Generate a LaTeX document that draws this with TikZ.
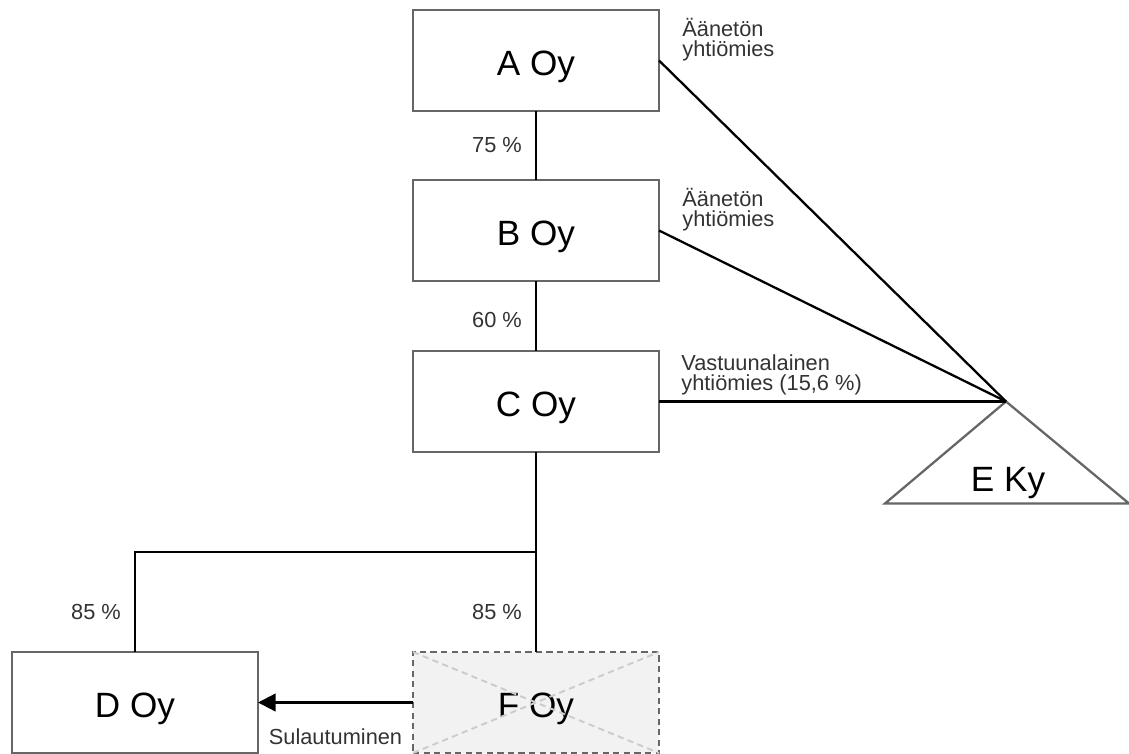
\documentclass[tikz,border=0pt]{standalone}
\usepackage{fontspec}
\setmainfont{Liberation Sans}
\usepackage{xcolor}
\definecolor{orgBorder}{HTML}{666666}
\definecolor{orgText}{HTML}{333333}
\definecolor{orgGone}{HTML}{F2F2F2}
\definecolor{orgCross}{HTML}{CCCCCC}
\usetikzlibrary{calc,arrows.meta,positioning}

\begin{document}
\begin{tikzpicture}[
    co/.style={draw=orgBorder, line width=1.3pt, fill=white, minimum width=4.92cm, minimum height=2.02cm, inner sep=0pt, outer sep=0pt, text height=17pt, text depth=0.4pt, font=\fontsize{20}{24}\selectfont},
    gone/.style={co, dash pattern=on 3.5pt off 2.5pt, fill=orgGone},
    ky/.style={inner sep=0pt, text height=17pt, text depth=0.4pt, font=\fontsize{20}{24}\selectfont},
    lbl/.style={inner sep=0pt, align=left, text=orgText, font=\fontsize{12.4}{11.4}\selectfont},
    link/.style={line width=1.3pt, black},
    arr/.style={link, -{Triangle[length=10pt,width=10pt]}}
  ]
    \useasboundingbox (0,0) rectangle (22.58,-15.08);
    \node[co] (a) at (10.72,-1.21) {A Oy};
    \node[co, below=1.38cm of a] (b) {B Oy};
    \node[co, below=1.40cm of b] (c) {C Oy};
    \node[gone, below=4.0cm of c] (f) {F Oy};
    \node[co, left=3.1cm of f] (d) {D Oy};
    \draw[orgCross, line width=1.1pt, dash pattern=on 3.5pt off 2.5pt] (f.north west) -- (f.south east) (f.south west) -- (f.north east);
    % E Ky
    \coordinate (eapex) at ($(c.east)+(6.94,0)$);
    \draw[draw=orgBorder, line width=1.3pt] (eapex) -- ($(eapex)+(2.46,-2.04)$) -- ($(eapex)+(-2.42,-2.04)$) -- cycle;
    \node[ky] (e) at ($(eapex)+(0.04,-1.5)$) {E Ky};
    % ownership
    \draw[link] (a.south) -- node[lbl, left=0.26cm] {75 \%} (b.north);
    \draw[link] (b.south) -- node[lbl, left=0.26cm, pos=0.55] {60 \%} (c.north);
    \coordinate (split) at ($(c.south)!0.5!(f.north)$);
    \draw[link] (c.south) -- node[lbl, left=0.26cm, pos=0.8] {85 \%} (f.north);
    \draw[link] (split) -| node[lbl, left=0.26cm, pos=0.8] {85 \%} (d.north);
    \draw[link] (a.east) -- (eapex);
    \draw[link] (b.east) -- (eapex);
    \draw[link] (c.east) -- (eapex);
    \node[lbl, anchor=base west] (ta) at ($(a.north east)+(0.46,-0.94)$) {Äänetön\\yhtiömies};
    \node[lbl, anchor=base west] (tb) at ($(b.north east)+(0.46,-0.94)$) {Äänetön\\yhtiömies};
    \node[lbl, anchor=base west] (tc) at ($(c.north east)+(0.44,-0.8)$) {Vastuunalainen\\yhtiömies (15,6 \%)};
    % merger
    \draw[arr] (f.west) -- node[lbl, below=0.5cm] {Sulautuminen} (d.east);
  \end{tikzpicture}
\end{document}
